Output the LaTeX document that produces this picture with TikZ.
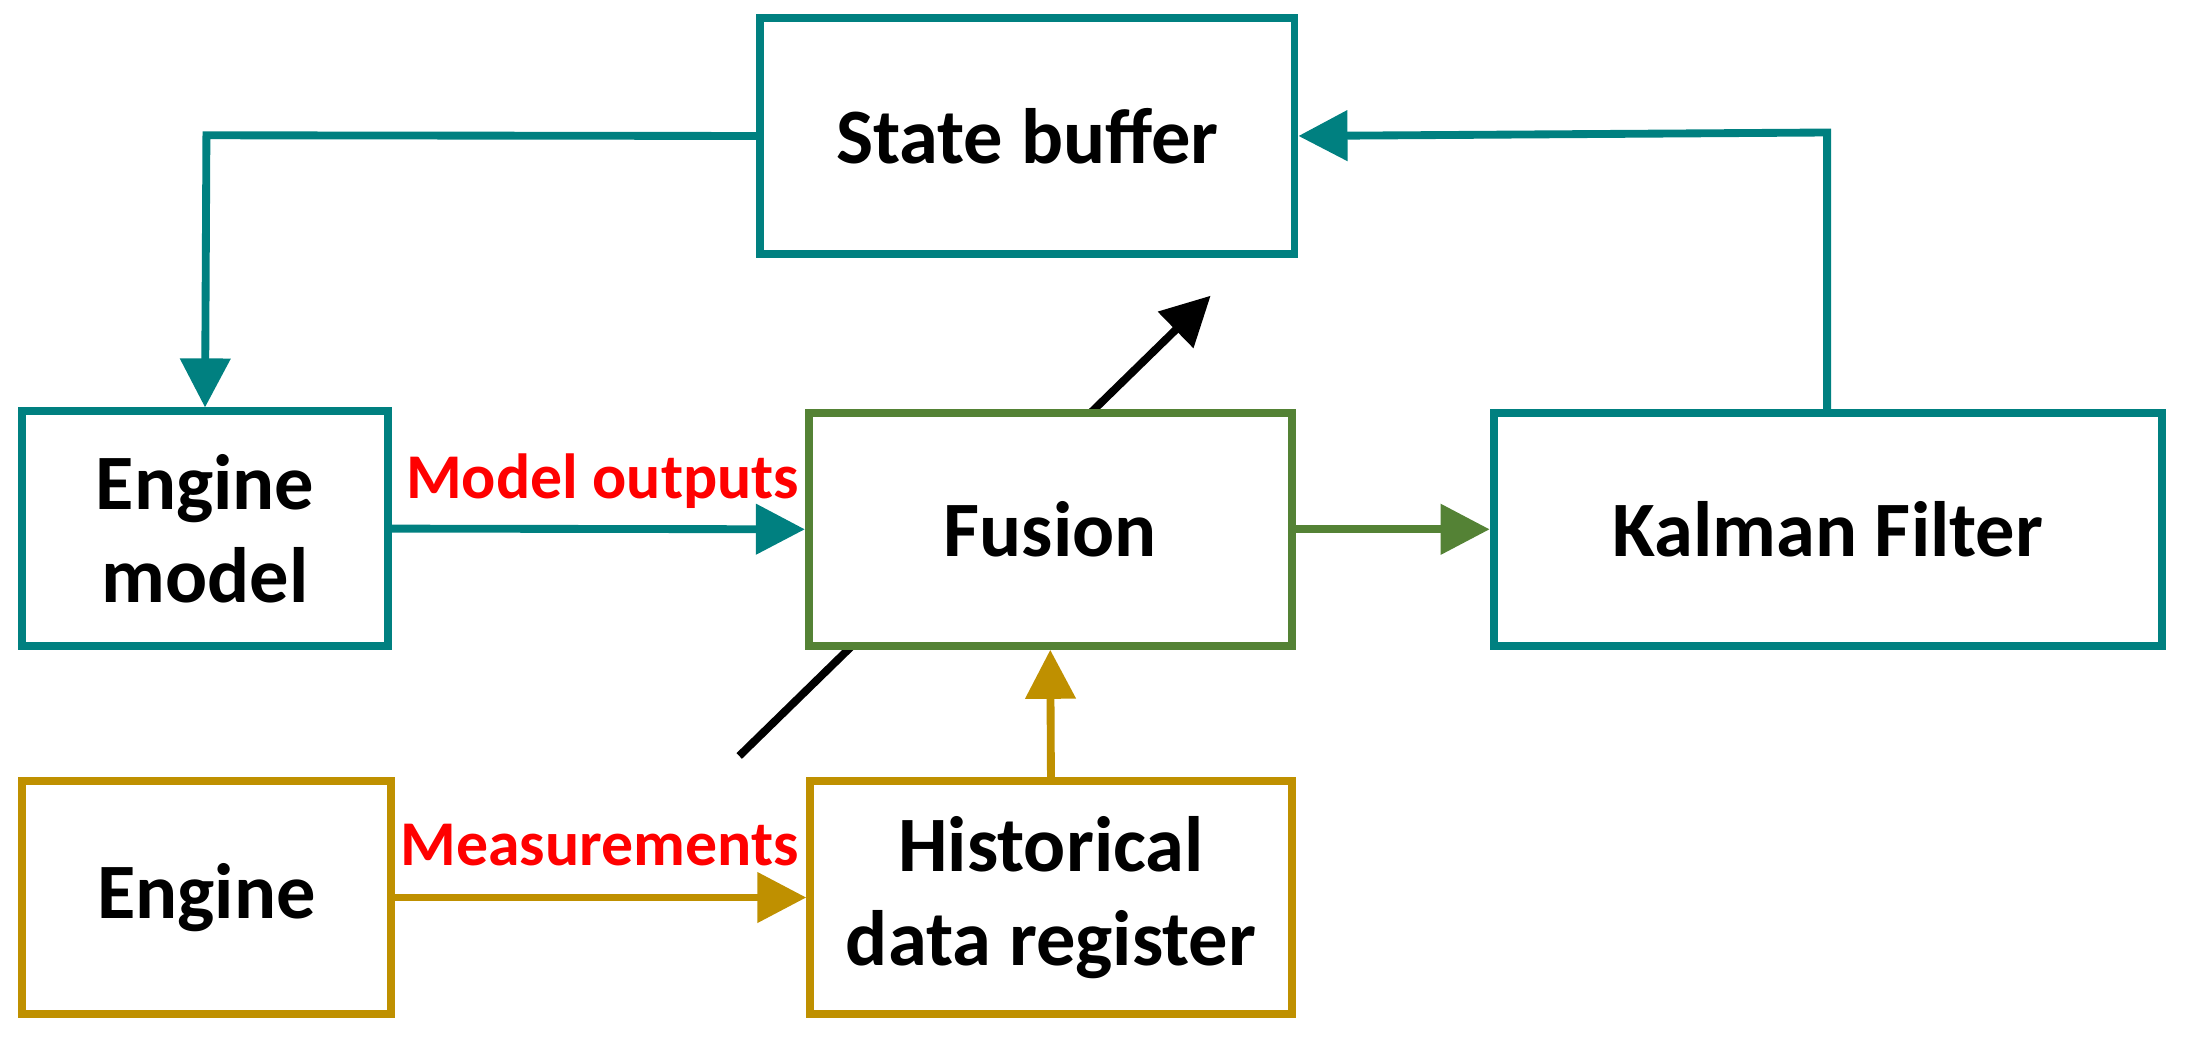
\documentclass[tikz,border=0pt]{standalone}
\usepackage{fontspec}
\setmainfont{Carlito}
\usetikzlibrary{arrows.meta}
\definecolor{teal1}{RGB}{0,128,128}
\definecolor{grn}{RGB}{84,130,53}
\definecolor{gold}{RGB}{191,144,0}
\begin{document}
\begin{tikzpicture}[x=0.01cm,y=-0.01cm,
 box/.style={draw,line width=1.6pt,fill=white,inner sep=0pt,align=center,font=\fontsize{16}{19}\selectfont\bfseries},
 arr/.style={line width=1.6pt,-{Triangle[length=10pt,width=10pt]}},
 lbl/.style={text=red,font=\fontsize{13}{15}\selectfont\bfseries,inner sep=0pt}]
\useasboundingbox (0,0) rectangle (1568,752);
\coordinate (ds) at (530,542);
\coordinate (de) at (868,212);
\draw[arr,black] (ds) -- (de);
\node[box,draw=teal1,minimum width=3.83cm,minimum height=1.69cm] (sb) at (736.5,97.5) {State buffer};
\node[box,draw=teal1,minimum width=2.62cm,minimum height=1.68cm] (em) at (147,379) {Engine\\model};
\node[box,draw=grn,minimum width=3.46cm,minimum height=1.67cm] (fu) at (753,379.5) {Fusion};
\node[box,draw=teal1,minimum width=4.79cm,minimum height=1.67cm] (kf) at (1310.5,379.5) {Kalman Filter};
\node[box,draw=gold,minimum width=2.64cm,minimum height=1.67cm] (en) at (148,643.5) {Engine};
\node[box,draw=gold,minimum width=3.45cm,minimum height=1.67cm] (hd) at (753.5,643.5) {Historical\\data register};
\coordinate (c1) at (148,97);
\coordinate (c2) at (1310,95);
\draw[arr,teal1] (sb.west) -- (c1) -- (em.north);
\draw[arr,teal1] (kf.north -| c2) -- (c2) -- (sb.east);
\draw[arr,teal1] (em.east) -- (fu.west);
\draw[arr,grn] (fu.east) -- (kf.west);
\draw[arr,gold] (en.east) -- (hd.west);
\draw[arr,gold] (hd.north) -- (fu.south);
\node[lbl] (l1) at (432,345) {Model outputs};
\node[lbl] (l2) at (430,606) {Measurements};
\end{tikzpicture}
\end{document}
